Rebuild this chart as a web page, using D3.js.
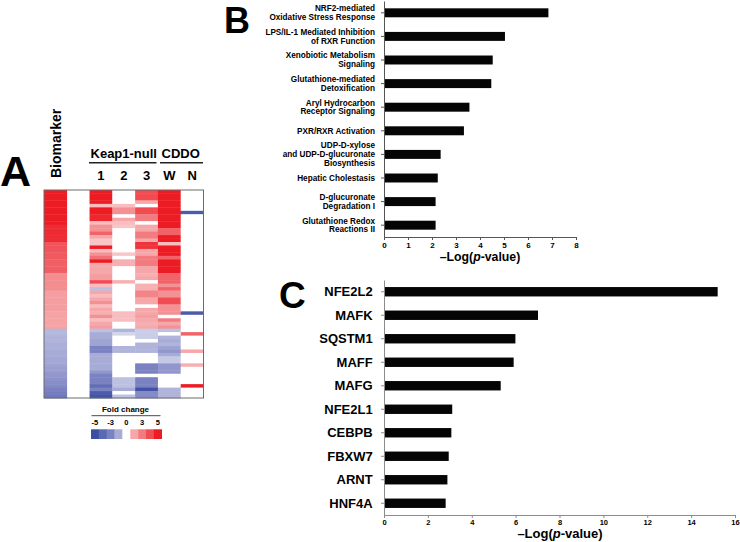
<!DOCTYPE html>
<html><head><meta charset="utf-8">
<script src="https://cdn.jsdelivr.net/npm/d3@7"></script>
<style>
html,body{margin:0;padding:0;background:#fff;}
svg{display:block;font-family:"Liberation Sans",Arial,sans-serif;}
</style></head>
<body><svg id="c" width="740" height="542"></svg>
<script>
// ---------- Panel A data (fold change per row) ----------
const heatColumns = ["Biomarker", "", "1", "2", "3", "W", "N"];
const biomarker = [5,5,5,5,5,5,5,5,5,5, 4.7,4.7,4.7,4.7,4.7, 3.8,3.8,3.8,3.7,3.7, 3.6,3.6,3.6,3.6, 2.6,2.6,2.6,2.6,2.6, 2.2,2.2,2.2,2.2,2.2,2.2,2.1,2.1,2.1,2.1,2.1,
  -1.7,-1.7,-1.8,-1.8,-1.9,-1.9,-2,-2,-2.1,-2.1,-2.2,-2.3,-2.4,-2.5,-2.6,-2.7,-2.8,-3,-3.2,-3.4];
const keap1_1 = [5,5,5,5,1.5,5,5,4.8,4.8,1.5, 2.5,2.5,3.5,2,1.3,1.3,5,1.5,2.5,3.2, 5,2,2,2,2.2,2.2,4,1.5,-1.5,2, 1.5,2,2.5,1.5,2,1.8,2.5,1.5,2,2.2,
  -1.5,-2,-2,-2.2,-2.2,-3,-3,-2,-2,-2,-2,-2,-2.5,-3,-3,-3,-3.8,-3,-4.5,-4.8];
const keap1_2 = [0,0,0,0,1.5,2.5,2.5,0,2,1.5, 1.3,0,0,0,0,0,0,0,1.3,0, 1.8,1.8,0,0,0,0,1.8,0,0,0, 0,0,0,0,0,1.5,1.5,1.5,0,0,
  -1.8,-1,0,0,0,-1.8,-1.8,0,0,0,0,0,0,0,-1.5,-1.5,-1.5,-2,0,-1.5];
const keap1_3 = [4,4,4,2,0,4,4,3,3,0, 2,2,3,3,2,4.5,4.5,2,2,3, 3,3,2,2,1.8,2,0,1.8,1.8,2.8, 2.8,2,2,0,2,2,2.2,2,1.8,2,
  -1.2,-1.2,-1.2,0,-1.8,-1.8,-1.8,0,0,0,-3,-3,-3,0,-3,-3,-3,-4.8,-2.8,-2.8];
const cddoW = [5,5,5,5,5,5,5,5,5,5, 5,3.5,3.5,5,5,1.5,5,5,5,3.5, 5,5,5,5,3.5,3.5,3.5,2.5,3.5,2.5, 2.5,4,4,2.5,2.5,2.5,0,3,2,2.5,
  -1.5,0,-1.8,-2,-1.8,-2.2,-2.5,-2,-1.3,-1.3,-2.5,-2.5,-2.5,0,0,0,0,-1.8,-1.8,-1.8];
const cddoN = [0,0,0,0,0,0,-4.5,0,0,0, 0,0,0,0,0,0,0,0,0,0, 0,0,0,0,0,0,0,0,0,0, 0,0,0,0,0,-4.5,0,0,0,0,
  0,3.5,0,0,0,0,2,0,0,0,1.8,0,0,0,0,0,5,0,0,0];
const legendValues = [-5, -4, -3, -2, 0, 2, 3, 4, 5];
const legendLabels = ["-5", "-3", "0", "3", "5"];

// ---------- Panel B data ----------
const pathways = ["NRF2-mediated\nOxidative Stress Response", "LPS/IL-1 Mediated Inhibition\nof RXR Function",
  "Xenobiotic Metabolism\nSignaling", "Glutathione-mediated\nDetoxification", "Aryl Hydrocarbon\nReceptor Signaling",
  "PXR/RXR Activation", "UDP-D-xylose\nand UDP-D-glucuronate\nBiosynthesis", "Hepatic Cholestasis",
  "D-glucuronate\nDegradation I", "Glutathione Redox\nReactions II"];
const pathwayValues = [6.85, 5.04, 4.53, 4.47, 3.56, 3.33, 2.36, 2.24, 2.15, 2.15];
const pathwayTicks = [0, 1, 2, 3, 4, 5, 6, 7, 8];

// ---------- Panel C data ----------
const regulators = ["NFE2L2", "MAFK", "SQSTM1", "MAFF", "MAFG", "NFE2L1", "CEBPB", "FBXW7", "ARNT", "HNF4A"];
const regulatorValues = [15.21, 7.02, 5.99, 5.91, 5.32, 3.11, 3.07, 2.95, 2.89, 2.81];
const regulatorTicks = [0, 2, 4, 6, 8, 10, 12, 14, 16];

const svg = d3.select("#c");
const FONT = '"Liberation Sans",Arial,sans-serif';

// ================= Panel A =================
const heatData = [biomarker, null, keap1_1, keap1_2, keap1_3, cddoW, cddoN];
const nRows = biomarker.length;
const color = d3.scaleLinear().domain([-5, -3, 0, 3, 5])
  .range(["#3b4fa2", "#7b82c2", "#ffffff", "#f27b7f", "#ed1c24"]).clamp(true);
const hx = d3.scaleBand().domain(heatColumns.map((d, i) => i)).range([44, 203.5]);
const hy = d3.scaleBand().domain(d3.range(nRows)).range([190, 398]);

const gA = svg.append("g");
const cells = [];
heatData.forEach((col, ci) => { if (col) col.forEach((v, ri) => cells.push({ ci, ri, v })); });
gA.selectAll("rect.cell").data(cells).join("rect").attr("class", "cell")
  .attr("x", d => hx(d.ci)).attr("y", d => hy(d.ri))
  .attr("width", hx.bandwidth() + 0.3).attr("height", hy.bandwidth() + 0.4)
  .attr("fill", d => color(d.v));
gA.append("rect").attr("x", hx.range()[0]).attr("y", hy.range()[0])
  .attr("width", hx.range()[1] - hx.range()[0]).attr("height", hy.range()[1] - hy.range()[0])
  .attr("fill", "none").attr("stroke", "#6b6b6b").attr("stroke-width", 1);

// headers
gA.append("text").attr("x", 0).attr("y", 186).attr("font-size", 43).attr("font-weight", "bold")
  .attr("font-family", FONT).text("A");
gA.append("text").attr("transform", `translate(${hx(0) + hx.bandwidth() / 2 + 6},178) rotate(-90)`)
  .attr("font-size", 14).attr("font-weight", "bold").attr("font-family", FONT).text("Biomarker");
const keapC = (hx(2) + hx(4) + hx.bandwidth()) / 2;
const cddoC = (hx(5) + hx(6) + hx.bandwidth()) / 2;
gA.append("text").attr("x", keapC).attr("y", 158).attr("text-anchor", "middle").attr("font-size", 13)
  .attr("font-weight", "bold").attr("font-family", FONT).text("Keap1-null");
gA.append("text").attr("x", cddoC).attr("y", 158).attr("text-anchor", "middle").attr("font-size", 13)
  .attr("font-weight", "bold").attr("font-family", FONT).text("CDDO");
gA.append("line").attr("x1", 89).attr("x2", 156.5).attr("y1", 162.7).attr("y2", 162.7).attr("stroke", "#222").attr("stroke-width", 1.4);
gA.append("line").attr("x1", 160).attr("x2", 203).attr("y1", 162.7).attr("y2", 162.7).attr("stroke", "#222").attr("stroke-width", 1.4);
gA.selectAll("text.colLab").data(heatColumns.slice(2)).join("text").attr("class", "colLab")
  .attr("x", (d, i) => hx(i + 2) + hx.bandwidth() / 2).attr("y", 179.5).attr("text-anchor", "middle")
  .attr("font-size", 13).attr("font-weight", "bold").attr("font-family", FONT).text(d => d);

// legend
const lx = d3.scaleBand().domain(d3.range(legendValues.length)).range([91, 161.7]);
gA.selectAll("rect.leg").data(legendValues).join("rect").attr("class", "leg")
  .attr("x", (d, i) => lx(i)).attr("y", 429.3).attr("width", lx.bandwidth() + 0.3).attr("height", 9.7)
  .attr("fill", d => color(d));
gA.append("text").attr("x", 125.5).attr("y", 411.8).attr("text-anchor", "middle").attr("font-size", 8)
  .attr("font-weight", "bold").attr("font-family", FONT).text("Fold change");
gA.append("line").attr("x1", 91.5).attr("x2", 160.5).attr("y1", 415.7).attr("y2", 415.7).attr("stroke", "#333").attr("stroke-width", 0.9);
gA.selectAll("text.legLab").data(legendLabels).join("text").attr("class", "legLab")
  .attr("x", (d, i) => lx(i * 2) + lx.bandwidth() / 2).attr("y", 425).attr("text-anchor", "middle")
  .attr("font-size", 7.5).attr("font-weight", "bold").attr("font-family", FONT).text(d => d);

// ================= bar panel helper =================
function barPanel(opts) {
  const g = svg.append("g");
  const x = d3.scaleLinear().domain(opts.xDomain).range(opts.xRange);
  const y = d3.scaleBand().domain(opts.cats).range(opts.yRange).paddingInner(opts.pad).paddingOuter(opts.pad / 2);
  g.selectAll("rect.bar").data(opts.cats).join("rect").attr("class", "bar")
    .attr("x", x(0)).attr("y", d => y(d))
    .attr("width", (d, i) => x(opts.values[i]) - x(0)).attr("height", y.bandwidth())
    .attr("fill", "#050505");
  const yAxis = g.append("g").attr("transform", `translate(${x(0)},0)`)
    .call(d3.axisLeft(y).tickSize(3).tickSizeOuter(0).tickFormat(""));
  yAxis.select(".domain").attr("stroke", opts.axisColor);
  yAxis.selectAll(".tick line").attr("stroke", opts.axisColor);
  const xAxis = g.append("g").attr("transform", `translate(0,${opts.yRange[1]})`)
    .call(d3.axisBottom(x).tickValues(opts.ticks).tickSize(3).tickSizeOuter(0).tickFormat(d3.format("d")));
  xAxis.select(".domain").attr("stroke", opts.axisColor);
  xAxis.selectAll(".tick line").attr("stroke", opts.axisColor);
  xAxis.selectAll(".tick text").attr("font-size", opts.tickFont).attr("font-weight", "bold")
    .attr("font-family", FONT).attr("fill", "#000").attr("dy", opts.tickDy);
  // category labels
  g.selectAll("text.cat").data(opts.cats).join("text").attr("class", "cat")
    .attr("text-anchor", "end").attr("font-size", opts.labelFont).attr("font-weight", "bold")
    .attr("font-family", FONT)
    .each(function (d) {
      const lines = d.split("\n");
      const c = y(d) + y.bandwidth() / 2;
      const t = d3.select(this);
      lines.forEach((ln, k) => {
        t.append("tspan").attr("x", opts.labelX)
          .attr("y", c + (k - (lines.length - 1) / 2) * opts.lineH + opts.labelFont * 0.35).text(ln);
      });
    });
  // axis title
  const tt = g.append("text").attr("x", opts.titleX).attr("y", opts.titleY).attr("text-anchor", "middle")
    .attr("font-size", opts.titleFont).attr("font-weight", "bold").attr("font-family", FONT);
  tt.append("tspan").text("\u2013Log(");
  tt.append("tspan").attr("font-style", "italic").text("p");
  tt.append("tspan").text("-value)");
  g.append("text").attr("x", opts.letterX).attr("y", opts.letterY).attr("font-size", opts.letterFont)
    .attr("font-weight", "bold").attr("font-family", FONT).text(opts.letter);
}

barPanel({
  cats: pathways, values: pathwayValues, ticks: pathwayTicks,
  xDomain: [0, 8], xRange: [384, 576], yRange: [1, 237], pad: 0.62,
  axisColor: "#555", tickFont: 8, tickDy: "0.6em", labelFont: 8.2, lineH: 8.8, labelX: 375,
  titleX: 480, titleY: 260.5, titleFont: 12.3, letter: "B", letterX: 224, letterY: 33, letterFont: 36
});
barPanel({
  cats: regulators, values: regulatorValues, ticks: regulatorTicks,
  xDomain: [0, 16], xRange: [384, 735], yRange: [280, 515], pad: 0.6,
  axisColor: "#8c8c8c", tickFont: 7.5, tickDy: "0.5em", labelFont: 13, lineH: 13, labelX: 372.7,
  titleX: 560, titleY: 537.5, titleFont: 13, letter: "C", letterX: 279, letterY: 308, letterFont: 37
});
</script></body></html>
